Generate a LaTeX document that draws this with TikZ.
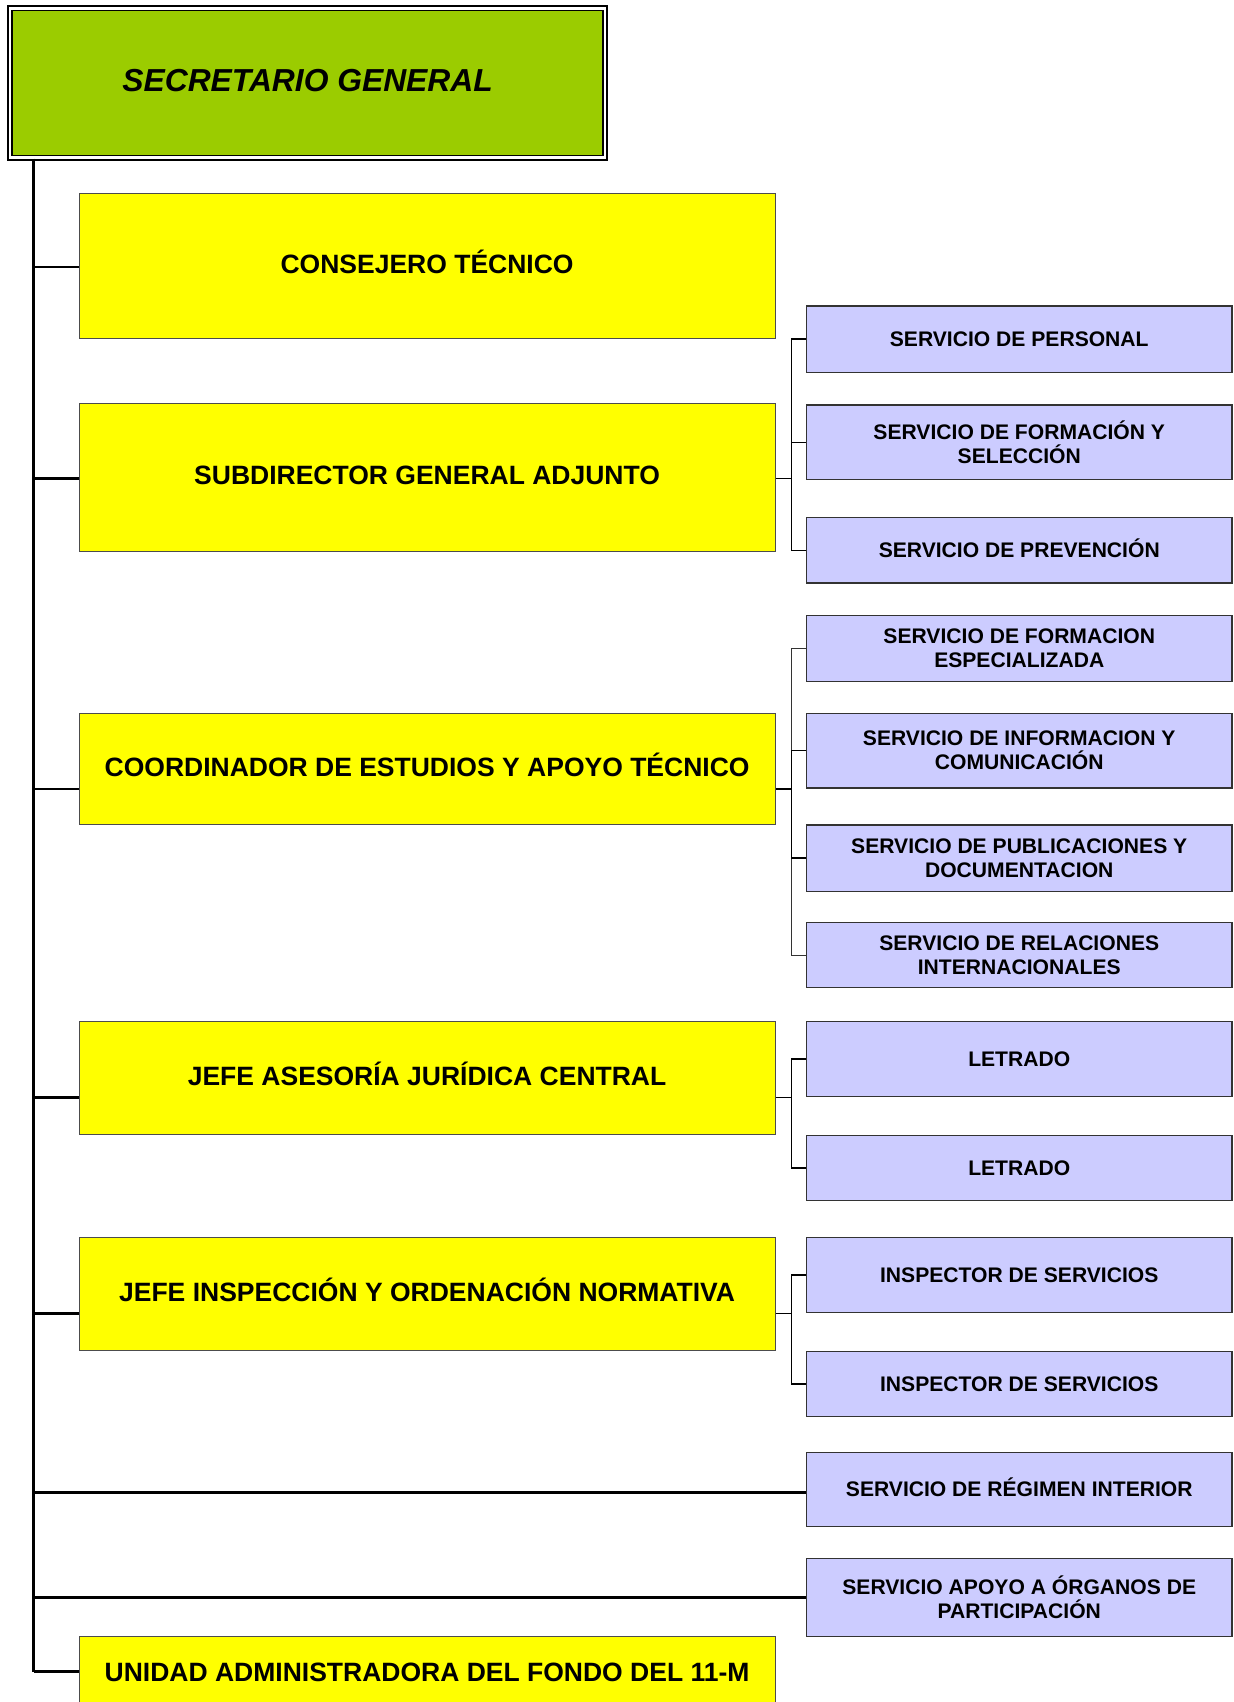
\documentclass[tikz,border=0pt]{standalone}
\usepackage{fontspec}
\setmainfont{Liberation Sans}
\definecolor{sgreen}{RGB}{155,204,0}
\definecolor{syellow}{RGB}{255,255,0}
\definecolor{sblue}{RGB}{204,204,255}
\begin{document}
\begin{tikzpicture}[x=0.5pt,y=-0.5pt,
  gbox/.style={rectangle, inner sep=0pt, minimum width=297.6pt, minimum height=74.6pt,
     fill=sgreen, draw=black, line width=0.9pt, double=white, double distance=1.2pt,
     font=\bfseries\itshape\fontsize{15.9}{19}\selectfont},
  ybox/.style={rectangle, inner sep=0pt, minimum width=347.9pt, minimum height=#1*0.5pt,
     fill=syellow, draw=black!70, line width=0.5pt, align=center,
     font=\bfseries\fontsize{13.25}{15.5}\selectfont},
  bbox/.style={rectangle, inner sep=0pt, minimum width=212.75pt, minimum height=#1*0.5pt,
     fill=sblue, draw=black!80, line width=0.6pt, align=center,
     font=\bfseries\fontsize{10.55}{12}\selectfont},
  capline/.style={text height=0.72em, text depth=0pt},
  trunk/.style={line width=1.25pt, draw=black},
  wire/.style={line width=0.75pt, draw=black},
  thinwire/.style={line width=0.4pt, draw=black!80},
  longwire/.style={line width=1.4pt, draw=black}]
\useasboundingbox (0,0) rectangle (1233,1702);
\fill[white] (0,0) rectangle (1233,1702);

% head
\node[gbox, capline] (sg) at (307.6,83) {\raisebox{-0.8pt}{SECRETARIO GENERAL}};

% yellow boxes
\node[ybox=145.4, capline] (cons) at (427.1,265.9) {CONSEJERO TÉCNICO};
\node[ybox=147.6, capline] (sub) at (427.1,477.6) {SUBDIRECTOR GENERAL ADJUNTO};
\node[ybox=111.8, capline] (coord) at (427.1,769) {COORDINADOR DE ESTUDIOS Y APOYO TÉCNICO};
\node[ybox=112.8, capline] (jas) at (427.1,1077.8) {JEFE ASESORÍA JURÍDICA CENTRAL};
\node[ybox=112.8, capline] (jin) at (427.1,1293.8) {JEFE INSPECCIÓN Y ORDENACIÓN NORMATIVA};
\node[ybox=74.4, capline] (uni) at (427.1,1674) {UNIDAD ADMINISTRADORA DEL FONDO DEL 11-M};

% blue boxes
\node[bbox=66.3, capline] (pers) at (1019.25,339.15) {SERVICIO DE PERSONAL};
\node[bbox=74.8] (form) at (1019.25,442.3) {SERVICIO DE FORMACIÓN Y\\SELECCIÓN};
\node[bbox=65.2, capline] (prev) at (1019.25,550.3) {SERVICIO DE PREVENCIÓN};
\node[bbox=66.2] (fesp) at (1019.25,648.5) {SERVICIO DE FORMACION\\ESPECIALIZADA};
\node[bbox=74.9] (info) at (1019.25,750.55) {SERVICIO DE INFORMACION Y\\COMUNICACIÓN};
\node[bbox=66.2] (pub) at (1019.25,858) {SERVICIO DE PUBLICACIONES Y\\DOCUMENTACION};
\node[bbox=65.1] (rel) at (1019.25,955.15) {SERVICIO DE RELACIONES\\INTERNACIONALES};
\node[bbox=74.9, capline] (let1) at (1019.25,1058.85) {LETRADO};
\node[bbox=65.2, capline] (let2) at (1019.25,1167.9) {LETRADO};
\node[bbox=74.8, capline] (ins1) at (1019.25,1274.8) {INSPECTOR DE SERVICIOS};
\node[bbox=65.1, capline] (ins2) at (1019.25,1383.85) {INSPECTOR DE SERVICIOS};
\node[bbox=73.8, capline] (reg) at (1019.25,1489.2) {SERVICIO DE RÉGIMEN INTERIOR};
\node[bbox=78.2] (apo) at (1019.25,1597.7) {SERVICIO APOYO A ÓRGANOS DE\\PARTICIPACIÓN};

% trunk junctions
\coordinate (j1) at (33.6,267);
\coordinate (j2) at (33.6,478.7);
\coordinate (j3) at (33.6,789);
\coordinate (j4) at (33.6,1097.3);
\coordinate (j5) at (33.6,1313.3);
\coordinate (j7) at (33.6,1492.4);
\coordinate (j8) at (33.6,1597.7);
\coordinate (j6) at (33.6,1671.5);

\draw[trunk] (sg.south -| j1) -- (j6);
\draw[trunk] (j1) -- (j1 -| cons.west);
\draw[trunk] (j2) -- (j2 -| sub.west);
\draw[trunk] (j3) -- (j3 -| coord.west);
\draw[trunk] (j4) -- (j4 -| jas.west);
\draw[trunk] (j5) -- (j5 -| jin.west);
\draw[trunk] (j6) -- (j6 -| uni.west);
\draw[longwire] (j7) -- (j7 -| reg.west);
\draw[longwire] (j8) -- (j8 -| apo.west);

% sub junctions
\coordinate (s2) at (791.3,478.7);
\coordinate (s3) at (791.3,789);
\coordinate (s4) at (791.3,1097.3);
\coordinate (s5) at (791.3,1313.3);

\draw[wire] (sub.east |- s2) -- (s2);
\draw[wire] (pers.west) -| (s2) |- (prev.west);
\draw[wire] (form.west) -- (form.west -| s2);

\draw[thinwire] (fesp.west) -| (s3) |- (rel.west);
\draw[wire] (coord.east |- s3) -- (s3);
\draw[wire] (info.west) -| (s3) |- (pub.west);

\draw[wire] (jas.east |- s4) -- (s4);
\draw[wire] (let1.west) -| (s4) |- (let2.west);

\draw[wire] (jin.east |- s5) -- (s5);
\draw[wire] (ins1.west) -| (s5) |- (ins2.west);
\end{tikzpicture}
\end{document}
